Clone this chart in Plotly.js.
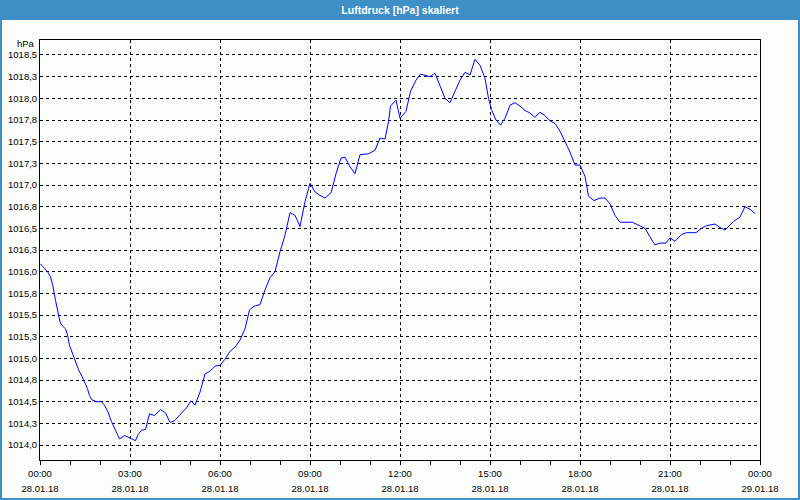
<!DOCTYPE html>
<html>
<head>
<meta charset="utf-8">
<script src="https://cdn.plot.ly/plotly-3.0.1.min.js"></script>
<style>html,body{margin:0;padding:0;background:#fbfdfb;}#chart{width:800px;height:500px;}</style>
</head>
<body>
<div id="chart"></div>
<script>
const day = "2018-01-28";
const times = ["00:01","00:16","00:21","00:26","00:31","00:36","00:40","00:44","00:51","00:55","00:59","01:06","01:11","01:17","01:24","01:29","01:35","01:39","01:44","01:53","02:03","02:09","02:16","02:23","02:31","02:39","02:49","02:57","03:03","03:11","03:16","03:23","03:31","03:39","03:49","04:01","04:11","04:20","04:29","04:40","04:53","05:02","05:10","05:20","05:30","05:40","05:50","06:00","06:10","06:20","06:30","06:40","06:50","06:59","07:08","07:20","07:30","07:40","07:50","08:00","08:10","08:20","08:30","08:40","08:50","09:00","09:10","09:20","09:30","09:42","09:52","10:02","10:10","10:20","10:30","10:40","10:57","11:10","11:20","11:30","11:37","11:41","11:52","12:00","12:12","12:21","12:32","12:41","12:50","13:00","13:10","13:20","13:30","13:40","13:50","14:00","14:10","14:20","14:30","14:40","14:50","14:57","15:03","15:12","15:21","15:30","15:40","15:50","16:00","16:10","16:20","16:30","16:40","16:50","17:00","17:10","17:20","17:30","17:40","17:50","18:00","18:10","18:17","18:28","18:40","18:50","19:00","19:10","19:20","19:45","19:57","20:10","20:20","20:30","20:40","20:52","21:00","21:10","21:23","21:33","21:52","22:03","22:13","22:30","22:40","22:50","23:07","23:20","23:30","23:40","23:50"];
const pressure = [1016.09,1015.99,1015.94,1015.83,1015.67,1015.52,1015.42,1015.38,1015.34,1015.27,1015.15,1015.04,1014.96,1014.87,1014.79,1014.73,1014.65,1014.57,1014.52,1014.50,1014.50,1014.46,1014.38,1014.27,1014.17,1014.07,1014.11,1014.09,1014.07,1014.05,1014.12,1014.17,1014.18,1014.36,1014.34,1014.41,1014.37,1014.26,1014.28,1014.35,1014.43,1014.51,1014.46,1014.61,1014.82,1014.85,1014.91,1014.92,1014.99,1015.08,1015.13,1015.21,1015.34,1015.56,1015.60,1015.62,1015.79,1015.93,1016.00,1016.23,1016.42,1016.68,1016.65,1016.52,1016.81,1017.02,1016.92,1016.88,1016.85,1016.91,1017.13,1017.31,1017.32,1017.21,1017.13,1017.35,1017.36,1017.40,1017.54,1017.53,1017.73,1017.91,1017.98,1017.77,1017.85,1018.08,1018.21,1018.28,1018.27,1018.25,1018.29,1018.15,1018.00,1017.95,1018.08,1018.21,1018.30,1018.27,1018.45,1018.38,1018.23,1018.00,1017.87,1017.75,1017.69,1017.77,1017.92,1017.95,1017.91,1017.86,1017.83,1017.78,1017.84,1017.80,1017.74,1017.71,1017.62,1017.50,1017.38,1017.23,1017.23,1017.10,1016.87,1016.82,1016.85,1016.85,1016.78,1016.65,1016.57,1016.57,1016.54,1016.50,1016.40,1016.31,1016.33,1016.33,1016.39,1016.35,1016.43,1016.45,1016.45,1016.50,1016.53,1016.55,1016.51,1016.48,1016.58,1016.63,1016.75,1016.72,1016.67];
const yTickVals = [1014.0,1014.25,1014.5,1014.75,1015.0,1015.25,1015.5,1015.75,1016.0,1016.25,1016.5,1016.75,1017.0,1017.25,1017.5,1017.75,1018.0,1018.25,1018.5];
const yTickText = ["1014,0","1014,3","1014,5","1014,8","1015,0","1015,3","1015,5","1015,8","1016,0","1016,3","1016,5","1016,8","1017,0","1017,3","1017,5","1017,8","1018,0","1018,3","1018,5"];
const titleText = "Luftdruck [hPa] skaliert";
const unitText = "hPa";
const xRange = ["2018-01-28 00:00", "2018-01-29 00:00"];
const yRange = [1013.827, 1018.673];

const FONT = "Liberation Sans, Arial, sans-serif";
const BLUE = "#3d8fc6";
const W = 800, H = 500, L = 40, R = 40, T = 40, B = 40;
const pw = W - L - R, ph = H - T - B;
const px = v => (v - L) / pw;
const py = v => (H - B - v) / ph;

const trace = {
  type: "scatter", mode: "lines",
  x: times.map(t => day + " " + t), y: pressure,
  line: {color: "#0000ff", width: 1},
  hoverinfo: "skip"
};

const gridCommon = {showgrid: true, gridcolor: "#000", gridwidth: 1, griddash: "3px,3px",
  showline: true, mirror: true, linecolor: "#000", linewidth: 1, zeroline: false, fixedrange: true};

const layout = {
  width: W, height: H,
  margin: {l: L, r: R, t: T, b: B, pad: 0},
  paper_bgcolor: "#fbfdfb", plot_bgcolor: "#fbfdfb",
  font: {family: FONT, size: 9.5, color: "#000"},
  showlegend: false,
  title: {text: titleText, font: {family: FONT, size: 10.5, color: "#ffffff", weight: "bold"},
    xref: "container", x: 0.5, xanchor: "center", yref: "container", y: 1 - 10 / H, yanchor: "middle"},
  xaxis: Object.assign({}, gridCommon, {
    type: "date", range: xRange, tick0: "2018-01-28 00:00", dtick: 3 * 3600000,
    tickformat: "%H:%M", ticks: "outside", ticklen: 4, tickcolor: "#000", ticklabelstandoff: 1,
    minor: {dtick: 3600000, ticks: "outside", ticklen: 4, tickcolor: "#000", showgrid: false}
  }),
  xaxis2: {
    type: "date", overlaying: "x", anchor: "y", side: "bottom", range: xRange,
    tick0: "2018-01-28 00:00", dtick: 3 * 3600000, tickformat: "%d.%m.%y",
    showgrid: false, showline: false, zeroline: false, ticks: "", ticklabelstandoff: 21, fixedrange: true
  },
  yaxis: Object.assign({}, gridCommon, {
    range: yRange, tickmode: "array", tickvals: yTickVals, ticktext: yTickText, ticks: ""
  }),
  shapes: [
    {type: "rect", xref: "paper", yref: "paper", x0: px(0), x1: px(W), y0: py(20), y1: py(0),
      fillcolor: BLUE, line: {width: 0}},
    {type: "rect", xref: "paper", yref: "paper", x0: px(1), x1: px(W - 1), y0: py(H - 1), y1: py(1),
      fillcolor: "rgba(0,0,0,0)", line: {color: BLUE, width: 2}}
  ],
  annotations: [
    {text: unitText, xref: "paper", yref: "paper", x: 0, y: py(44), xanchor: "right", yanchor: "middle",
      xshift: -3, showarrow: false, font: {family: FONT, size: 9.5, color: "#000"}}
  ]
};

Plotly.newPlot("chart", [trace, {type: "scatter", mode: "lines", x: [], y: [], xaxis: "x2", yaxis: "y", hoverinfo: "skip"}], layout, {staticPlot: true, displayModeBar: false});
</script>
</body>
</html>
